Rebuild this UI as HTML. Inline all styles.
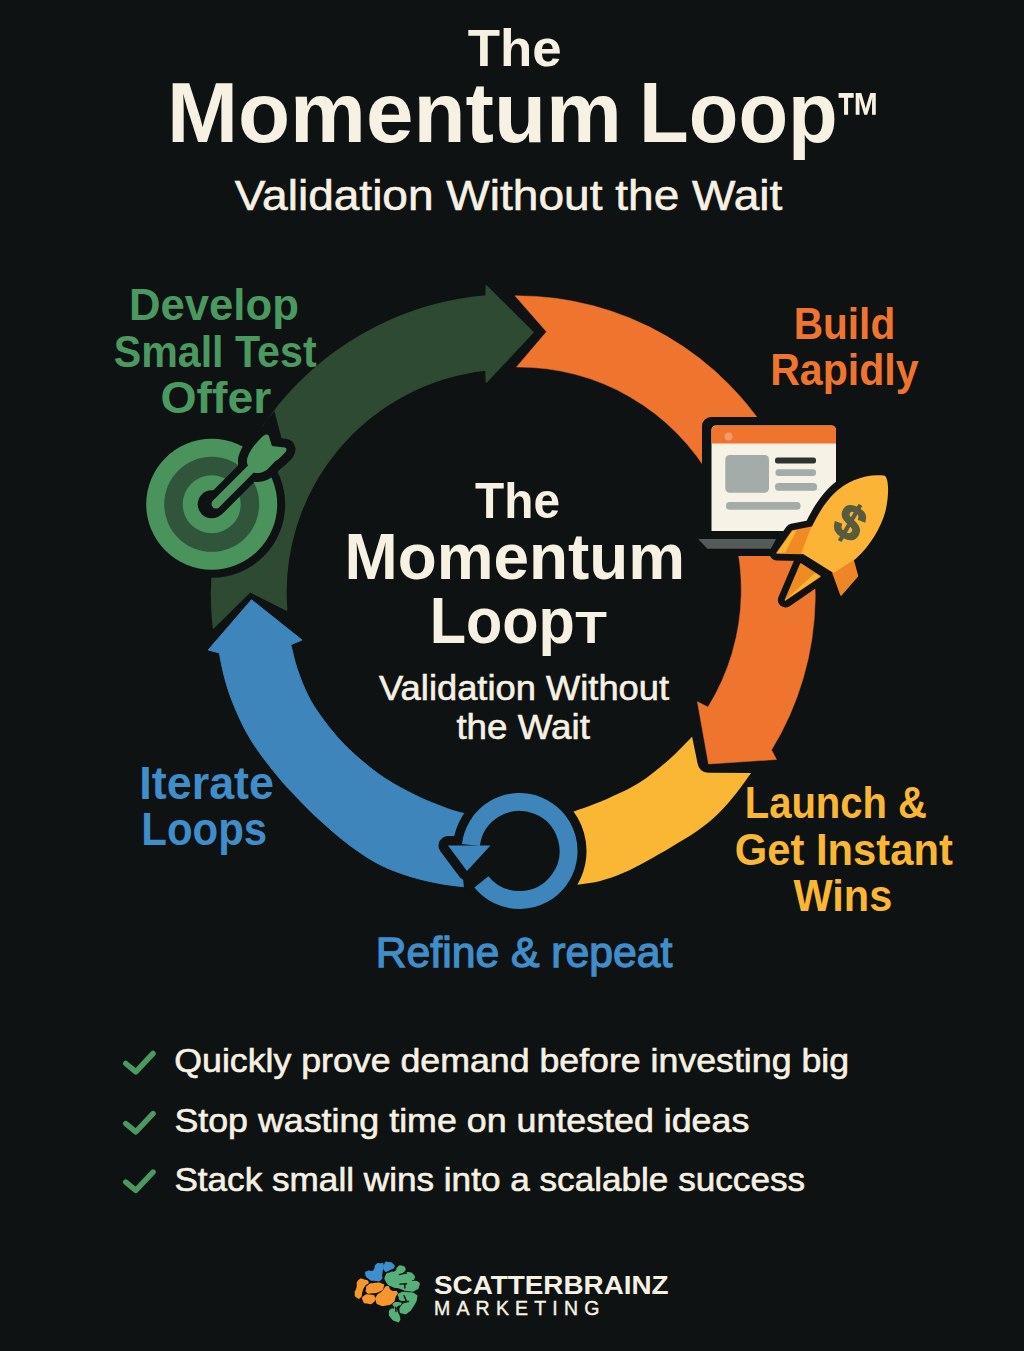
<!DOCTYPE html>
<html lang="en">
<head>
<meta charset="utf-8">
<title>The Momentum Loop</title>
<style>
html,body{margin:0;padding:0;background:#0f1213;}
body{width:1024px;height:1351px;overflow:hidden;}
svg{display:block;font-family:"Liberation Sans",sans-serif;}
</style>
</head>
<body>
<svg width="1024" height="1351" viewBox="0 0 1024 1351">
<rect width="1024" height="1351" fill="#0f1213"/>
<text x="467.7" y="65.8" font-size="51.5" font-weight="bold" fill="#f6f1e3" textLength="94.0" lengthAdjust="spacingAndGlyphs">The</text>
<text x="166.9" y="141.7" font-size="84.5" font-weight="bold" fill="#f6f1e3" textLength="455.0" lengthAdjust="spacingAndGlyphs">Momentum</text>
<text x="639.1" y="141.7" font-size="84.5" font-weight="bold" fill="#f6f1e3" textLength="198.6" lengthAdjust="spacingAndGlyphs">Loop</text>
<text x="836.1" y="140.5" font-size="70" font-weight="bold" fill="#f6f1e3" textLength="45.5" lengthAdjust="spacingAndGlyphs">™</text>
<text x="234.8" y="209.7" font-size="43" font-weight="normal" fill="#f6f1e3" stroke="#f6f1e3" stroke-width="0.6" textLength="547.6" lengthAdjust="spacingAndGlyphs">Validation Without the Wait</text>
<path d="M213.4 628 A299.8 299.8 0 0 1 486 296 L486.4 286 L533 332.3 L486.4 382 L486 370 A223.8 223.8 0 0 0 286.6 610 L250 591.6 Z" fill="#2e4a32" stroke="#2e4a32" stroke-width="1.5" stroke-linejoin="round"/>
<path d="M515 295.8 A298.6 298.6 0 0 1 771.5 750 L776.5 759.5 L708.5 764 L697.4 701.7 L708 707 A222.8 222.8 0 0 0 516.5 367 L546.5 331.7 Z" fill="#ef752f" stroke="#ef752f" stroke-width="0.5" stroke-linejoin="round"/>
<path d="M692.1 736.8 L697.5 763 Q699 772 708.2 772.8 L751.1 773 C748.7 776.3 741.9 786.3 736.5 793.0 C731.1 799.7 725.3 806.9 718.7 813.3 C712.1 819.6 705.1 825.5 697.1 831.1 C689.1 836.8 679.4 842.2 671.0 847.2 C662.6 852.2 654.9 856.6 647.0 860.9 C639.1 865.1 631.4 869.4 623.6 872.7 C615.8 876.0 607.6 879.0 600.2 880.9 C592.8 882.8 586.6 883.4 579.1 884.4 C571.6 885.4 561.5 886.4 555.0 887.0 C548.5 887.6 542.5 887.8 540.0 888.0 L540 821 C542.5 820.3 549.5 818.5 555.0 817.0 C560.5 815.5 566.7 813.9 573.2 811.7 C579.8 809.6 588.2 806.5 594.3 804.1 C600.4 801.7 602.4 801.1 610.0 797.5 C617.6 793.9 630.2 788.5 640.0 782.2 C649.8 776.0 659.9 767.6 668.6 760.0 C677.3 752.4 688.2 740.7 692.1 736.8 Z" fill="#fab733"/>
<path d="M500 889.5 C493.9 889.0 474.0 887.8 463.5 886.7 C453.0 885.6 446.5 884.8 437.2 883.0 C427.9 881.2 417.7 878.9 407.9 875.7 C398.1 872.5 388.2 869.0 378.6 864.0 C369.0 859.0 359.4 852.4 350.0 845.5 C340.6 838.6 330.8 829.9 322.5 822.5 C314.2 815.1 307.9 808.8 300.3 800.9 C292.7 793.0 285.1 785.4 276.9 775.2 C268.6 765.0 257.9 751.4 250.8 739.8 C243.7 728.2 238.4 716.0 234.0 705.6 C229.6 695.2 227.0 686.3 224.6 677.5 C222.2 668.7 220.2 657.0 219.3 652.9 L208.2 650 L251.5 599.8 L302 640 L290.8 644.7 C291.9 648.8 294.5 660.9 297.3 669.3 C300.1 677.7 304.0 687.5 307.8 695.1 C311.6 702.7 314.8 707.7 320.0 715.0 C325.2 722.3 332.2 731.5 339.0 739.0 C345.8 746.5 353.2 753.3 361.0 760.0 C368.8 766.7 376.9 773.1 385.9 779.0 C394.9 784.9 406.6 790.9 415.2 795.2 C423.8 799.5 429.6 801.8 437.2 804.7 C444.8 807.6 450.1 810.1 460.6 812.7 C471.1 815.3 493.4 819.2 500.0 820.5 Z" fill="#3d85bb" stroke="#3d85bb" stroke-width="1" stroke-linejoin="round"/>
<circle cx="519.5" cy="851" r="58" fill="#0f1213"/>
<path d="M470.9 845.0 A49 49 0 1 1 481.4 881.8" fill="none" stroke="#0f1213" stroke-width="36"/>
<path d="M448 845.6 L490.5 845.6 L467 871 Z" fill="#0f1213" stroke="#0f1213" stroke-width="19" stroke-linejoin="round"/>
<path d="M462 868 L464 888 L472 897 L490 884 L478 868 Z" fill="#0f1213"/>
<path d="M470.9 845.0 A49 49 0 1 1 481.4 881.8" fill="none" stroke="#3d85bb" stroke-width="18"/>
<path d="M448 845.6 L490.5 845.6 L467 871 Z" fill="#3d85bb"/>
<text x="129.0" y="319.5" font-size="45" font-weight="bold" fill="#4a9960" textLength="169.8" lengthAdjust="spacingAndGlyphs">Develop</text>
<text x="113.7" y="366.6" font-size="45" font-weight="bold" fill="#4a9960" textLength="202.9" lengthAdjust="spacingAndGlyphs">Small Test</text>
<text x="160.5" y="412.7" font-size="45" font-weight="bold" fill="#4a9960" textLength="110.9" lengthAdjust="spacingAndGlyphs">Offer</text>
<text x="793.7" y="338.6" font-size="45" font-weight="bold" fill="#ef752f" textLength="101.5" lengthAdjust="spacingAndGlyphs">Build</text>
<text x="770.2" y="384.8" font-size="45" font-weight="bold" fill="#ef752f" textLength="148.4" lengthAdjust="spacingAndGlyphs">Rapidly</text>
<text x="744.7" y="818.2" font-size="44.5" font-weight="bold" fill="#fab733" textLength="182.3" lengthAdjust="spacingAndGlyphs">Launch &amp;</text>
<text x="734.8" y="865.2" font-size="44.5" font-weight="bold" fill="#fab733" textLength="218.0" lengthAdjust="spacingAndGlyphs">Get Instant</text>
<text x="793.5" y="910.9" font-size="44.5" font-weight="bold" fill="#fab733" textLength="98.8" lengthAdjust="spacingAndGlyphs">Wins</text>
<text x="139.3" y="798.8" font-size="46" font-weight="bold" fill="#3f8dc9" textLength="134.7" lengthAdjust="spacingAndGlyphs">Iterate</text>
<text x="141.3" y="845.2" font-size="46" font-weight="bold" fill="#3f8dc9" textLength="125.8" lengthAdjust="spacingAndGlyphs">Loops</text>
<text x="375.8" y="966.5" font-size="42.5" font-weight="normal" fill="#3f8dc9" stroke="#3f8dc9" stroke-width="1.3" textLength="296.6" lengthAdjust="spacingAndGlyphs">Refine &amp; repeat</text>
<text x="475.0" y="517.5" font-size="50" font-weight="bold" fill="#f6f1e3" textLength="85.0" lengthAdjust="spacingAndGlyphs">The</text>
<text x="344.5" y="579" font-size="64.5" font-weight="bold" fill="#f6f1e3" textLength="340.6" lengthAdjust="spacingAndGlyphs">Momentum</text>
<text x="429.7" y="642.6" font-size="64.5" font-weight="bold" fill="#f6f1e3" textLength="145.2" lengthAdjust="spacingAndGlyphs">Loop</text>
<text x="575.2" y="643" font-size="45" font-weight="bold" fill="#f6f1e3" textLength="31.7" lengthAdjust="spacingAndGlyphs">T</text>
<text x="379.1" y="699.8" font-size="35" font-weight="normal" fill="#f6f1e3" stroke="#f6f1e3" stroke-width="0.6" textLength="290.0" lengthAdjust="spacingAndGlyphs">Validation Without</text>
<text x="456.4" y="738.7" font-size="35" font-weight="normal" fill="#f6f1e3" stroke="#f6f1e3" stroke-width="0.6" textLength="133.6" lengthAdjust="spacingAndGlyphs">the Wait</text>
<path d="M125.8 1063.5 L135.8 1071.8 L153 1053.5" fill="none" stroke="#4a9960" stroke-width="5.5" stroke-linecap="round" stroke-linejoin="round"/>
<text x="174.3" y="1072.2" font-size="33.5" font-weight="normal" fill="#f6f1e3" stroke="#f6f1e3" stroke-width="0.6" textLength="674.8" lengthAdjust="spacingAndGlyphs">Quickly prove demand before investing big</text>
<path d="M125.8 1123.6 L135.8 1131.8999999999999 L153 1113.6" fill="none" stroke="#4a9960" stroke-width="5.5" stroke-linecap="round" stroke-linejoin="round"/>
<text x="174.4" y="1132.3" font-size="33.5" font-weight="normal" fill="#f6f1e3" stroke="#f6f1e3" stroke-width="0.6" textLength="574.9" lengthAdjust="spacingAndGlyphs">Stop wasting time on untested ideas</text>
<path d="M125.8 1182.1 L135.8 1190.3999999999999 L153 1172.1" fill="none" stroke="#4a9960" stroke-width="5.5" stroke-linecap="round" stroke-linejoin="round"/>
<text x="174.4" y="1190.8" font-size="33.5" font-weight="normal" fill="#f6f1e3" stroke="#f6f1e3" stroke-width="0.6" textLength="630.7" lengthAdjust="spacingAndGlyphs">Stack small wins into a scalable success</text>
<text x="434.0" y="1293.5" font-size="25.5" font-weight="bold" fill="#f6f1e3" textLength="234.6" lengthAdjust="spacingAndGlyphs">SCATTERBRAINZ</text>
<text x="434" y="1315.2" font-size="19.5" fill="#f6f1e3" stroke="#f6f1e3" stroke-width="0.4" textLength="165.4" lengthAdjust="spacing">MARKETING</text>
<circle cx="211.7" cy="504.3" r="73.5" fill="#0f1213"/>
<circle cx="211.7" cy="504.3" r="65.5" fill="#4a935d"/>
<circle cx="211.7" cy="504.3" r="47.5" fill="#30553a"/>
<circle cx="211.7" cy="504.3" r="29" fill="#4a935d"/>
<circle cx="211.7" cy="504.3" r="14" fill="#0f1213"/>
<path d="M254 442 L266 421 L274.4 411 L282 440 L272 456 Z" fill="#0f1213"/>
<path d="M216 504 L253 467" stroke="#0f1213" stroke-width="23" stroke-linecap="round" fill="none"/>
<path d="M250.5 470 C247.5 466 246 462 247.5 457.5 C250 450 256 443 262.5 436.6 C265 434.3 267.8 434 268.75 435.5 L271.9 446 L284.5 447.6 C287 448 287 450 285.5 452 C282 456 279 459 275 461.6 C271 466 268 469.5 264 471.5 C260 473.5 255 473.5 253.1 472 Z" fill="#0f1213" stroke="#0f1213" stroke-width="18" stroke-linejoin="round"/>
<path d="M216 504 L253 467" stroke="#4a935d" stroke-width="9" stroke-linecap="round" fill="none"/>
<path d="M250.5 470 C247.5 466 246 462 247.5 457.5 C250 450 256 443 262.5 436.6 C265 434.3 267.8 434 268.75 435.5 L271.9 446 L284.5 447.6 C287 448 287 450 285.5 452 C282 456 279 459 275 461.6 C271 466 268 469.5 264 471.5 C260 473.5 255 473.5 253.1 472 Z" fill="#4a935d"/>
<rect x="702" y="417" width="137" height="121" rx="9" fill="#0f1213"/>
<path d="M692 533 H782 V556 H700 Z" fill="#0f1213"/>
<path d="M711.5 430 a4.5 4.5 0 0 1 4.5 -4.5 H831.5 a4.5 4.5 0 0 1 4.5 4.5 V531 H711.5 Z" fill="#f6f2e6"/>
<path d="M711.5 430 a4.5 4.5 0 0 1 4.5 -4.5 H831.5 a4.5 4.5 0 0 1 4.5 4.5 V443.5 H711.5 Z" fill="#ef752f"/>
<circle cx="728.5" cy="436.5" r="4" fill="#f4996a"/>
<rect x="725.3" y="455" width="43.7" height="37.7" rx="4.5" fill="#a3aca8"/>
<rect x="775" y="457.4" width="41" height="6" rx="2.5" fill="#2c3432"/>
<rect x="775.5" y="469.3" width="40.5" height="6.8" rx="3" fill="#a3aca8"/>
<rect x="775" y="483" width="42" height="7.8" rx="3.5" fill="#a3aca8"/>
<rect x="726" y="502" width="74.5" height="7.8" rx="3.5" fill="#a3aca8"/>
<path d="M698.2 539 H776 L771 548.7 H707.4 Z" fill="#545b59"/>
<path d="M883.5 475.5 C866 473.5 846 481 833.5 494 C821 507 811 525 801.5 553 L833.5 573 L855.5 559 C870 546 881 528 885.5 511 C888.5 498 889 484 886.5 478.5 C886 476.5 885 475.8 883.5 475.5 Z" fill="#0f1213" stroke="#0f1213" stroke-width="15" stroke-linejoin="round"/>
<path d="M777 553 L792.5 531 L813 527 L802 553.5 Z" fill="#0f1213" stroke="#0f1213" stroke-width="15" stroke-linejoin="round"/>
<path d="M785.4 600 L800.7 564 L820 576.4 Z" fill="#0f1213" stroke="#0f1213" stroke-width="15" stroke-linejoin="round"/>
<path d="M852 556 L857.5 576 L841 595 L833 573 Z" fill="#0f1213" stroke="#0f1213" stroke-width="15" stroke-linejoin="round"/>
<path d="M777 553 L792.5 531 L813 527 L802 553.5 Z" fill="#f08a22" stroke="#f08a22" stroke-width="1.5" stroke-linejoin="round"/>
<path d="M777 553 L792.5 531 L797 530 L785 552.5 Z" fill="#fab733"/>
<path d="M785.4 600 L800.7 564 L820 576.4 Z" fill="#f08a22" stroke="#f08a22" stroke-width="1.5" stroke-linejoin="round"/>
<path d="M785.4 600 L815 573 L820 576.4 Z" fill="#fab733"/>
<path d="M852 556 L857.5 576 L841 595 L833 573 Z" fill="#ee8526" stroke="#ee8526" stroke-width="1.5" stroke-linejoin="round"/>
<path d="M883.5 475.5 C866 473.5 846 481 833.5 494 C821 507 811 525 801.5 553 L833.5 573 L855.5 559 C870 546 881 528 885.5 511 C888.5 498 889 484 886.5 478.5 C886 476.5 885 475.8 883.5 475.5 Z" fill="#fbb435"/>
<text x="850.5" y="539" font-size="49" font-weight="bold" fill="#585b3e" stroke="#585b3e" stroke-width="1.6" text-anchor="middle" transform="rotate(30 850 522)">$</text>
<path d="M365.2 1273.7 C364.9 1270.9 365.2 1271.8 367.9 1270.7 C370.5 1269.5 370.5 1272.3 373.1 1270.2 C375.8 1268.2 373.4 1266.8 375.8 1264.5 C378.1 1262.2 377.5 1263.2 380.2 1263.2 C382.8 1263.2 382.9 1261.3 383.7 1264.5 C384.4 1267.7 383.2 1267.7 382.4 1272.9 C381.5 1278.0 383.8 1277.2 381.0 1279.9 C378.3 1282.5 378.1 1281.1 374.0 1280.8 C369.9 1280.5 371.7 1281.3 368.7 1279.0 C365.8 1276.7 365.5 1276.5 365.2 1273.7 Z" fill="#3d8ecf"/>
<path d="M384.6 1263.2 C386.0 1260.2 386.0 1261.8 388.9 1262.1 C391.9 1262.4 391.6 1262.2 393.3 1264.1 C395.1 1265.9 395.1 1265.7 394.2 1267.6 C393.3 1269.5 393.9 1268.6 390.7 1269.8 C387.5 1270.9 386.6 1273.3 384.6 1271.1 C382.5 1268.9 383.1 1266.2 384.6 1263.2 Z" fill="#3d8ecf"/>
<path d="M358.2 1280.3 C360.8 1277.5 360.8 1278.7 364.3 1279.4 C367.9 1280.2 368.4 1280.3 368.7 1282.5 C369.0 1284.7 367.3 1283.1 365.2 1286.0 C363.2 1289.0 364.0 1287.5 362.6 1291.3 C361.1 1295.1 362.9 1295.4 360.8 1297.5 C358.8 1299.5 358.5 1298.9 356.4 1297.5 C354.4 1296.0 354.7 1296.3 354.7 1293.1 C354.7 1289.8 355.3 1292.0 356.4 1287.8 C357.6 1283.5 355.5 1283.1 358.2 1280.3 Z" fill="#f8962e"/>
<path d="M367.9 1285.2 C370.5 1283.3 369.3 1283.5 374.0 1283.0 C378.7 1282.4 378.7 1282.1 381.9 1283.4 C385.1 1284.7 384.3 1284.3 383.7 1286.9 C383.1 1289.6 384.3 1289.1 380.2 1291.3 C376.1 1293.5 375.9 1293.2 371.4 1293.5 C366.8 1293.8 368.3 1293.8 366.5 1292.2 C364.8 1290.6 365.7 1291.0 366.1 1288.7 C366.5 1286.3 365.2 1287.1 367.9 1285.2 Z" fill="#f8962e"/>
<path d="M363.9 1295.7 C366.7 1293.7 367.7 1294.2 371.4 1294.8 C375.0 1295.4 374.3 1294.8 374.9 1297.5 C375.5 1300.1 375.8 1300.7 373.1 1302.7 C370.5 1304.8 370.3 1304.2 367.0 1303.6 C363.6 1303.0 364.0 1303.6 363.0 1301.0 C362.0 1298.3 361.1 1297.8 363.9 1295.7 Z" fill="#f8962e"/>
<path d="M387.2 1286.0 C390.4 1285.7 388.2 1288.5 391.6 1290.4 C395.0 1292.3 396.0 1289.4 397.3 1291.7 C398.6 1294.1 397.0 1293.8 395.5 1297.5 C394.1 1301.1 396.0 1300.1 392.9 1302.7 C389.8 1305.4 390.8 1304.6 386.3 1305.4 C381.8 1306.1 382.8 1306.4 379.3 1304.9 C375.8 1303.5 376.6 1304.1 375.8 1301.0 C374.9 1297.9 374.6 1298.9 376.6 1295.7 C378.7 1292.5 378.4 1294.5 381.9 1291.3 C385.4 1288.1 384.0 1286.3 387.2 1286.0 Z" fill="#f8962e"/>
<path d="M385.4 1275.5 C386.9 1272.0 387.5 1273.4 390.7 1272.0 C393.9 1270.5 392.8 1272.9 395.1 1271.1 C397.4 1269.3 395.4 1268.5 397.7 1266.7 C400.1 1264.9 399.5 1264.9 402.1 1265.8 C404.8 1266.7 405.4 1266.8 405.6 1269.3 C405.9 1271.8 402.1 1272.4 403.0 1273.3 C403.9 1274.2 404.8 1271.5 408.3 1272.0 C411.8 1272.4 411.5 1272.3 413.6 1274.6 C415.6 1277.0 415.0 1277.0 414.4 1279.0 C413.8 1281.1 410.6 1279.9 411.8 1280.8 C413.0 1281.6 415.5 1279.9 417.9 1281.6 C420.4 1283.4 420.1 1283.1 419.3 1286.0 C418.4 1289.0 419.0 1288.7 415.3 1290.4 C411.6 1292.2 413.6 1291.9 408.3 1291.3 C403.0 1290.7 404.8 1290.1 399.5 1288.7 C394.2 1287.2 396.9 1289.0 392.5 1286.9 C388.1 1284.9 388.7 1286.3 386.3 1282.5 C384.0 1278.7 384.0 1279.0 385.4 1275.5 Z" fill="#57b079"/>
<path d="M399.5 1293.1 C402.7 1291.3 403.0 1291.9 408.3 1292.2 C413.6 1292.5 412.4 1291.9 415.3 1293.9 C418.2 1296.0 417.7 1294.2 417.1 1298.3 C416.5 1302.4 416.5 1301.6 413.6 1306.2 C410.6 1310.9 411.8 1309.9 408.3 1312.4 C404.8 1314.9 405.9 1314.3 403.0 1313.7 C400.1 1313.1 399.8 1313.7 399.5 1310.6 C399.2 1307.6 399.8 1307.4 402.1 1304.5 C404.5 1301.6 406.8 1303.0 406.5 1301.9 C406.2 1300.7 403.9 1302.4 401.2 1301.0 C398.6 1299.5 399.2 1300.1 398.6 1297.5 C398.0 1294.8 396.3 1294.8 399.5 1293.1 Z" fill="#57b079"/>
<path d="M392.9 1303.6 C394.7 1301.7 396.7 1302.0 399.5 1302.3 C402.3 1302.6 402.1 1302.9 401.2 1304.5 C400.4 1306.1 398.0 1304.8 396.9 1307.1 C395.7 1309.5 396.7 1308.3 397.7 1311.5 C398.8 1314.7 399.3 1313.6 399.9 1316.8 C400.5 1320.0 400.8 1319.6 399.5 1321.2 C398.2 1322.8 398.9 1322.8 396.0 1321.6 C393.0 1320.5 393.0 1320.5 390.7 1317.7 C388.4 1314.9 388.9 1316.2 388.9 1313.3 C388.9 1310.4 388.9 1310.6 390.7 1308.9 C392.5 1307.1 393.5 1309.8 394.2 1308.0 C395.0 1306.2 391.1 1305.5 392.9 1303.6 Z" fill="#57b079"/>
<path d="M399.5 1274.6 L403.0 1273.6 L406.5 1273.0" fill="none" stroke="#0f1213" stroke-width="1.4" stroke-linecap="round"/>
<path d="M399.9 1284.1 L406.5 1283.7" fill="none" stroke="#0f1213" stroke-width="1.4" stroke-linecap="round"/>
<path d="M404.9 1283.7 L404.8 1288.0" fill="none" stroke="#0f1213" stroke-width="1.4" stroke-linecap="round"/>
<path d="M404.1 1295.7 L405.6 1299.2 L406.5 1301.4" fill="none" stroke="#0f1213" stroke-width="1.4" stroke-linecap="round"/>
<path d="M402.0 1301.7 L408.5 1301.5" fill="none" stroke="#0f1213" stroke-width="1.4" stroke-linecap="round"/>
<path d="M395.5 1307.1 L396.0 1311.5" fill="none" stroke="#0f1213" stroke-width="1.4" stroke-linecap="round"/>
</svg>
</body>
</html>
